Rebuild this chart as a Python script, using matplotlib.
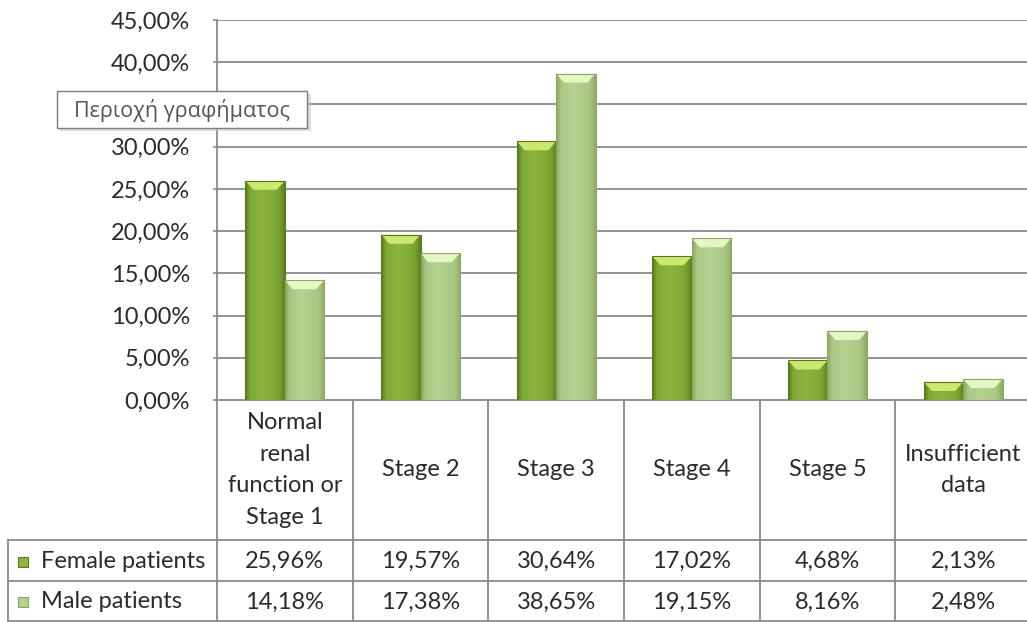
import numpy as np
import matplotlib
matplotlib.use("Agg")
import matplotlib.pyplot as plt
from matplotlib.patches import Rectangle, Polygon
from matplotlib.transforms import blended_transform_factory
from matplotlib.colors import to_rgb

categories = ["Normal\nrenal\nfunction or\nStage 1", "Stage 2", "Stage 3", "Stage 4", "Stage 5", "Insufficient\ndata"]
series_names = ["Female patients", "Male patients"]
female = [25.96, 19.57, 30.64, 17.02, 4.68, 2.13]
male = [14.18, 17.38, 38.65, 19.15, 8.16, 2.48]
yticks = [0, 5, 10, 15, 20, 25, 30, 35, 40, 45]
tooltip_text = "Περιοχή γραφήματος"

W, H = 1027, 622
fig = plt.figure(figsize=(W / 100, H / 100), dpi=100)
FONT = ["Lato", "Open Sans", "DejaVu Sans"]
TXT = "#2b2b2b"
GRID = "#8a8a8a"
FS = 17

# plot area in pixels
L, R, T, B = 217, 1031, 20, 400
ax = fig.add_axes([L / W, 1 - B / H, (R - L) / W, (B - T) / H])
ax.set_xlim(-0.5, len(categories) - 0.5)
ax.set_ylim(0, 45)

over = fig.add_axes([0, 0, 1, 1], zorder=-1)
over.set_xlim(0, W)
over.set_ylim(H, 0)
over.axis("off")

# gridlines
ax.set_yticks(yticks)
ax.set_yticklabels([("%.2f%%" % v).replace(".", ",") for v in yticks],
                   fontfamily=FONT, fontsize=FS, color=TXT)
ax.yaxis.grid(True, color=GRID, lw=1.3)
ax.set_axisbelow(True)
ax.tick_params(axis="y", length=3, width=1.2, color=GRID, pad=16.5)
ax.set_xticks([])
for s in ["top", "right", "bottom"]:
    ax.spines[s].set_visible(False)
ax.spines["left"].set_color(GRID)
ax.spines["left"].set_linewidth(1.3)
# the 35,00% label is hidden under the chart-area tooltip in the reference
for lab, v in zip(ax.get_yticklabels(), yticks):
    if v == 35:
        lab.set_visible(False)

x = np.arange(len(categories))
bw = 0.29

styles = [
    dict(edge="#557a1c", mid="#8cb63e", light="#cce86e"),
    dict(edge="#89a85f", mid="#b6d290", light="#e6f5c4"),
]

px_per_y = (B - T) / 45.0
px_per_x = (R - L) / len(categories)
bev_h = 9 / px_per_y
bev_dx = 8 / px_per_x

for k, (vals, st) in enumerate(zip([female, male], styles)):
    offs = -bw / 2 if k == 0 else bw / 2
    bars = ax.bar(x + offs, vals, width=bw, color=st["mid"], edgecolor="none", zorder=2)
    e = np.array(to_rgb(st["edge"]))
    m = np.array(to_rgb(st["mid"]))
    pos = np.linspace(0, 1, 64)
    t = np.interp(pos, [0, 0.12, 0.45, 0.85, 1.0], [0.0, 0.75, 1.0, 0.7, 0.1])
    grad = (e[None, :] * (1 - t[:, None]) + m[None, :] * t[:, None])[None, :, :]
    for b in bars:
        bx, bwid, bh = b.get_x(), b.get_width(), b.get_height()
        im = ax.imshow(grad, extent=(bx, bx + bwid, 0, bh), aspect="auto",
                       zorder=2.1, interpolation="bilinear")
        im.set_clip_path(b)
        hh = min(bev_h, bh * 0.5)
        bev = Polygon([(bx, bh), (bx + bwid, bh), (bx + bwid - bev_dx, bh - hh), (bx + bev_dx, bh - hh)],
                      closed=True, facecolor=st["light"], edgecolor="none", zorder=2.2)
        ax.add_patch(bev)
        ax.add_patch(Rectangle((bx, 0), bwid, bh, fill=False, edgecolor=st["edge"], lw=0.8, zorder=2.3))

ax.set_xlim(-0.5, len(categories) - 0.5)
ax.set_ylim(0, 45)

# data table
tr = blended_transform_factory(ax.transData, over.transData)
HDR_B, F_B, M_B = 540, 581, 621
LEFT = 8
xr = len(categories) - 0.5
over.plot([-0.5, xr], [B, B], color=GRID, lw=1.3, transform=tr, clip_on=False)
for yy in [HDR_B, F_B, M_B]:
    over.plot([LEFT, W], [yy, yy], color=GRID, lw=1.3, clip_on=False)
for i in range(len(categories) + 1):
    over.plot([i - 0.5, i - 0.5], [B, M_B], color=GRID, lw=1.3, transform=tr, clip_on=False)
over.plot([LEFT, LEFT], [HDR_B, M_B], color=GRID, lw=1.3, clip_on=False)

for i, c in enumerate(categories):
    over.text(i, (B + HDR_B) / 2, c, transform=tr, ha="center", va="center",
              fontfamily=FONT, fontsize=FS, color=TXT, linespacing=1.62)
    over.text(i, (HDR_B + F_B) / 2 + 1, ("%.2f%%" % female[i]).replace(".", ","), transform=tr,
              ha="center", va="center", fontfamily=FONT, fontsize=FS, color=TXT)
    over.text(i, (F_B + M_B) / 2 + 1, ("%.2f%%" % male[i]).replace(".", ","), transform=tr,
              ha="center", va="center", fontfamily=FONT, fontsize=FS, color=TXT)

for name, st, y0, y1 in [(series_names[0], styles[0], HDR_B, F_B), (series_names[1], styles[1], F_B, M_B)]:
    yc = (y0 + y1) / 2
    over.add_patch(Rectangle((18, yc - 4), 10, 10, facecolor=st["mid"], edgecolor=st["edge"], lw=0.8))
    over.text(41, yc + 1, name, ha="left", va="center", fontfamily=FONT, fontsize=FS, color=TXT)

# tooltip
tip = fig.add_axes([0, 0, 1, 1], zorder=5)
tip.set_xlim(0, W)
tip.set_ylim(H, 0)
tip.axis("off")
tip.add_patch(Rectangle((60, 94), 251, 37, facecolor="#c8c8c8", edgecolor="none", alpha=0.6))
tip.add_patch(Rectangle((57, 91), 250, 37, facecolor="white", edgecolor="#7a7a7a", lw=1.0))
tip.text(182, 111, tooltip_text, ha="center", va="center",
         fontfamily=["Open Sans", "DejaVu Sans"], fontsize=15.5, color="#555555")

fig.savefig("out.png", dpi=100, facecolor="white")
